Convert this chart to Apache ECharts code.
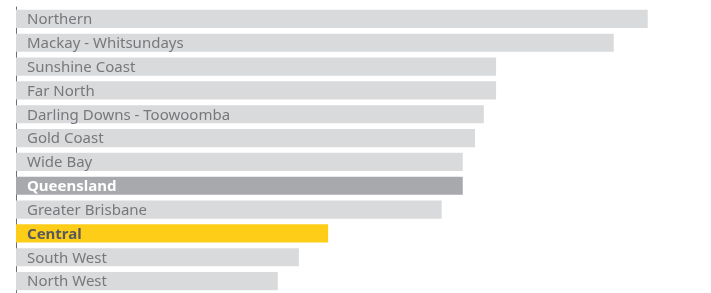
<!DOCTYPE html>
<html>
<head>
<meta charset="utf-8">
<script src="https://cdn.jsdelivr.net/npm/echarts@6/dist/echarts.min.js"></script>
<style>
html,body{margin:0;padding:0;background:#fff;}
#chart{width:711px;height:293px;}
</style>
</head>
<body>
<div id="chart"></div>
<script>
var categories = ['Northern','Mackay - Whitsundays','Sunshine Coast','Far North','Darling Downs - Toowoomba','Gold Coast','Wide Bay','Queensland','Greater Brisbane','Central','South West','North West'];
var values = [9.29, 8.79, 7.06, 7.06, 6.88, 6.75, 6.57, 6.57, 6.26, 4.59, 4.16, 3.85];
var stateName = 'Queensland';
var focusRegion = 'Central';

var chart = echarts.init(document.getElementById('chart'));
var fontFam = '"Noto Sans", sans-serif';
chart.setOption({
  animation: false,
  grid: {left: 16, right: 15, top: 7, bottom: 0, containLabel: false},
  xAxis: {type: 'value', min: 0, max: 10, show: false},
  yAxis: {
    type: 'category', data: categories, inverse: true,
    axisLine: {show: true, lineStyle: {color: '#6d6e71', width: 1}},
    axisTick: {show: false}, axisLabel: {show: false}, splitLine: {show: false}
  },
  series: [{
    type: 'bar',
    data: values,
    barCategoryGap: '24%',
    itemStyle: {
      color: function (p) {
        if (p.name === stateName) return '#a7a9ac';
        if (p.name === focusRegion) return '#fecd17';
        return '#d9dadb';
      }
    },
    label: {
      show: true, position: 'insideLeft', distance: 11, offset: [0, 1],
      formatter: function (p) {
        if (p.name === stateName) return '{s|' + p.name + '}';
        if (p.name === focusRegion) return '{f|' + p.name + '}';
        return '{n|' + p.name + '}';
      },
      rich: {
        n: {fontFamily: fontFam, fontSize: 15, color: '#77787b'},
        s: {fontFamily: fontFam, fontSize: 15, color: '#ffffff', fontWeight: 'bold'},
        f: {fontFamily: fontFam, fontSize: 15, color: '#58595b', fontWeight: 'bold'}
      }
    }
  }]
});
</script>
</body>
</html>
